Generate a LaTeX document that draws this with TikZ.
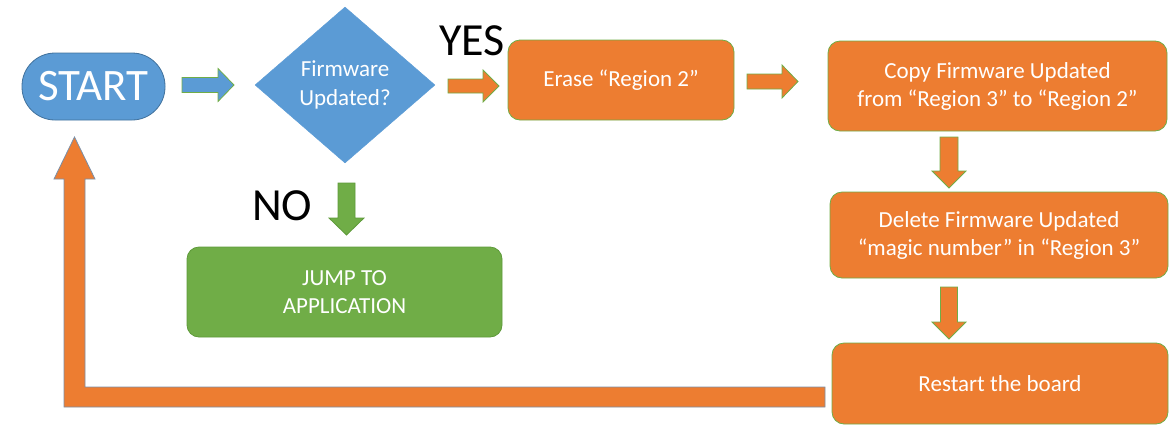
\documentclass[tikz,border=0pt]{standalone}
\usepackage{fontspec}
\setmainfont{Carlito}
\usetikzlibrary{shapes.geometric}
\definecolor{cblue}{HTML}{5B9BD5}
\definecolor{cbluedk}{HTML}{41719C}
\definecolor{corange}{HTML}{ED7D31}
\definecolor{cgreen}{HTML}{70AD47}
\definecolor{cgreendk}{HTML}{5E9A3A}
\definecolor{cgray}{HTML}{7A8FA8}
\newcommand{\rarrow}[6]{% a b c s h L
  ({#1},{#3-#4}) -- ({#2-#6},{#3-#4}) -- ({#2-#6},{#3-#5}) -- ({#2},{#3}) -- ({#2-#6},{#3+#5}) -- ({#2-#6},{#3+#4}) -- ({#1},{#3+#4}) -- cycle}
\newcommand{\darrow}[6]{% c a b s h L
  ({#1-#4},{#2}) -- ({#1-#4},{#3-#6}) -- ({#1-#5},{#3-#6}) -- ({#1},{#3}) -- ({#1+#5},{#3-#6}) -- ({#1+#4},{#3-#6}) -- ({#1+#4},{#2}) -- cycle}
\tikzset{
  box/.style={rectangle, rounded corners=12pt, inner sep=0pt, align=center, text=white,
    font=\fontsize{23}{28}\selectfont, line width=0.8pt},
  obox/.style={box, fill=corange, draw=cgreen},
  gbox/.style={box, fill=cgreen, draw=cgreendk},
  barrow/.style={fill=cblue, draw=cgreen, line width=0.8pt},
  oarrow/.style={fill=corange, draw=cgreen, line width=0.8pt},
  garrow/.style={fill=cgreen, draw=cgreendk, line width=0.8pt},
  bigtext/.style={font=\fontsize{46}{52}\selectfont, inner sep=0pt}
}
\begin{document}
\begin{tikzpicture}[x=1pt,y=-1pt]
\useasboundingbox (0,0) rectangle (1174,432);
% return arrow
\filldraw[fill=corange, draw=cgray, line width=0.8pt]
  (825,387) -- (85,387) -- (85,179) -- (95,179) -- (74.5,137) -- (54,179) -- (64,179) -- (64,407) -- (825,407) -- cycle;
% nodes
\node[box, fill=cblue, draw=cbluedk, rounded corners=33pt, minimum width=143pt, minimum height=67pt,
  font=\fontsize{45}{50}\selectfont] (start) at (93.5,86.5) {START};
\node[diamond, fill=cblue, draw=cblue, inner sep=0pt, minimum width=180pt, minimum height=156pt,
  shape aspect=1.15, text=white, align=center, font=\fontsize{23}{29}\selectfont] (dia) at (345,85) {Firmware\\Updated?};
\node[obox, minimum width=226pt, minimum height=80pt] (erase) at (621,80) {Erase “Region 2”};
\node[obox, minimum width=339pt, minimum height=90pt] (copy) at (997.5,86) {Copy Firmware Updated\\from “Region 3” to “Region 2”};
\node[obox, minimum width=338pt, minimum height=86pt] (delete) at (999,235) {Delete Firmware Updated\\“magic number” in “Region 3”};
\node[obox, minimum width=336pt, minimum height=81pt] (restart) at (1000,383.5) {Restart the board};
\node[gbox, minimum width=315pt, minimum height=90pt] (jump) at (344.5,292) {JUMP TO\\APPLICATION};
% labels
\node[bigtext, anchor=base west] (yes) at (439,55) {YES};
\node[bigtext, anchor=base west] (no) at (252,220) {NO};
% block arrows
\filldraw[barrow] \rarrow{182}{234}{85}{7.5}{16.5}{16};
\filldraw[oarrow] \rarrow{448}{499}{86}{7}{16}{16};
\filldraw[oarrow] \rarrow{747}{798}{81.5}{7.5}{16.5}{16};
\filldraw[oarrow] \darrow{949}{137}{188}{9}{17}{17};
\filldraw[oarrow] \darrow{949}{287}{339}{8.5}{17}{17};
\filldraw[garrow] \darrow{346.5}{183}{235}{8.5}{17.5}{17};
\end{tikzpicture}
\end{document}
